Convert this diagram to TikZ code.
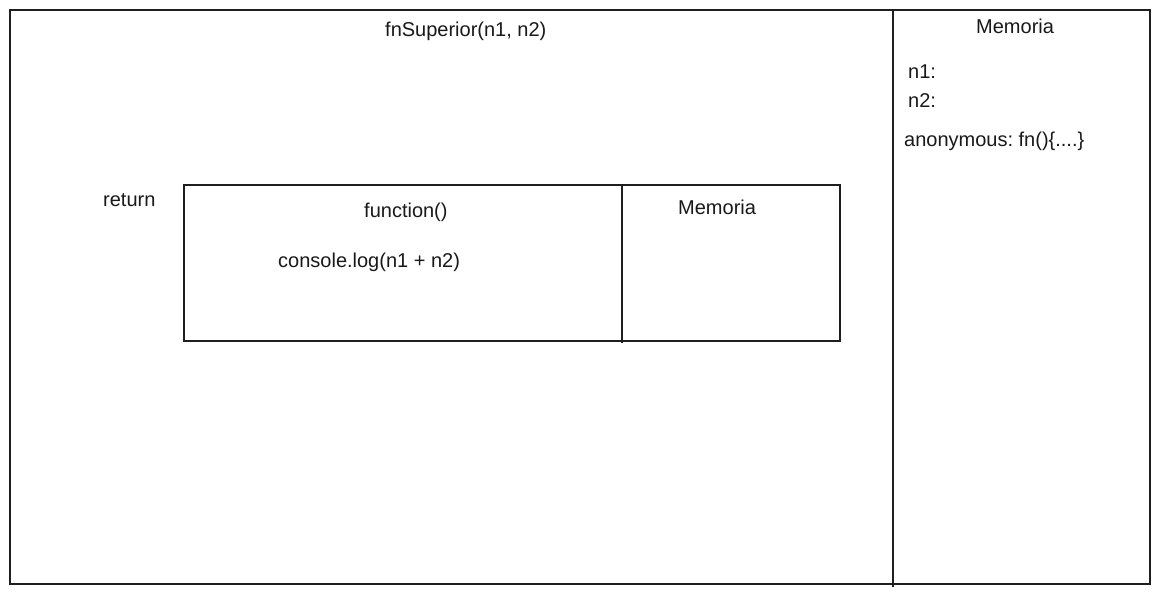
\documentclass[tikz,border=0pt]{standalone}
\usepackage{fontspec}
\setmainfont{Liberation Sans}
\frenchspacing
\begin{document}
\begin{tikzpicture}[x=1pt,y=-1pt,
  frame/.style={draw=black!88,line width=1.2pt},
  lbl/.style={inner sep=0pt,anchor=base west,font=\fontsize{20}{24}\selectfont,text=black!90}]
\useasboundingbox (0,0) rectangle (1160,597);
\fill[white] (0,0) rectangle (1160,597);
% outer frame
\draw[frame] (10,10) rectangle (1150,584);
\draw[frame] (893,10) -- (893,587);
% inner frame
\draw[frame] (184,185) rectangle (840,341);
\draw[frame] (622,185) -- (622,343);
% labels
\node[lbl] (title) at (385,36) {fnSuperior(n1, n2)};
\node[lbl] (mem) at (976,34) {Memoria};
\node[lbl] (n1) at (908,78) {n1:};
\node[lbl] (n2) at (908,107) {n2:};
\node[lbl] (anon) at (904,146) {anonymous: fn()\{....\}};
\node[lbl] (ret) at (103,206) {return};
\node[lbl] (fun) at (364,217) {function()};
\node[lbl] (imem) at (678,214) {Memoria};
\node[lbl] (log) at (278,267) {console.log(n1 + n2)};
\end{tikzpicture}
\end{document}
